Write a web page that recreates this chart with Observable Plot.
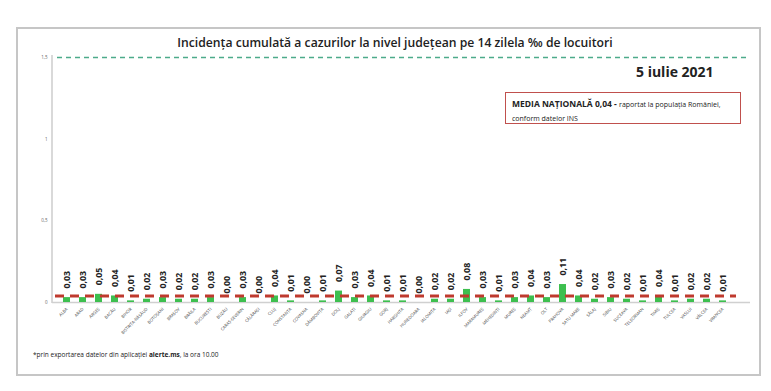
<!DOCTYPE html>
<html>
<head>
<meta charset="utf-8">
<script src="https://cdn.jsdelivr.net/npm/d3@7"></script>
<script src="https://cdn.jsdelivr.net/npm/@observablehq/plot@0.6"></script>
<style>
  html, body { margin: 0; padding: 0; background: #fff; }
  #wrap { position: relative; width: 771px; height: 391px; overflow: hidden; font-family: "Open Sans", sans-serif; color: #222; }
  #frame { position: absolute; left: 16px; top: 27px; width: 741px; height: 345px; border: 2px solid #c6c6c6; }
  #yline { position: absolute; left: 51px; top: 55px; width: 2px; height: 248px; background: #d9d9d9; }
  #title { position: absolute; left: 0; width: 790px; top: 34px; text-align: center; font-size: 12.2px; font-weight: 600; white-space: nowrap; }
  #date { position: absolute; left: 636px; top: 62px; font-size: 14px; font-weight: 700; white-space: nowrap; }
  #box { position: absolute; left: 505px; top: 92px; width: 236px; height: 32px; border: 1.5px solid #c0504d; box-sizing: border-box; padding: 3px 0 0 6px; line-height: 11px; white-space: nowrap; }
  #box b { font-size: 8.5px; font-weight: 700; }
  #box span { font-size: 7px; }
  #note { position: absolute; left: 33px; top: 350px; font-size: 6.5px; white-space: nowrap; }
  #chart { position: absolute; left: 0; top: 0; }
</style>
</head>
<body>
<div id="wrap">
  <div id="frame"></div>
  <div id="yline"></div>
  <div id="title">Incidența cumulată a cazurilor la nivel județean pe 14 zilela ‰ de locuitori</div>
  <div id="date">5 iulie 2021</div>
  <div id="box"><b>MEDIA NAȚIONALĂ 0,04 - </b><span>raportat la populația României,</span><br><span>conform datelor INS</span></div>
  <div id="note">*prin exportarea datelor din aplicației <b>alerte.ms</b>, la ora 10.00</div>
  <div id="chart"></div>
</div>
<script>
const counties = ["ALBA","ARAD","ARGEȘ","BACĂU","BIHOR","BISTRIȚA-NĂSĂUD","BOTOȘANI","BRAȘOV","BRĂILA","BUCUREȘTI","BUZĂU","CARAȘ-SEVERIN","CĂLĂRAȘI","CLUJ","CONSTANȚA","COVASNA","DÂMBOVIȚA","DOLJ","GALAȚI","GIURGIU","GORJ","HARGHITA","HUNEDOARA","IALOMIȚA","IAȘI","ILFOV","MARAMUREȘ","MEHEDINȚI","MUREȘ","NEAMȚ","OLT","PRAHOVA","SATU MARE","SĂLAJ","SIBIU","SUCEAVA","TELEORMAN","TIMIȘ","TULCEA","VASLUI","VÂLCEA","VRANCEA"];
const incidence = [0.03,0.03,0.05,0.04,0.01,0.02,0.03,0.02,0.02,0.03,0.00,0.03,0.00,0.04,0.01,0.00,0.01,0.07,0.03,0.04,0.01,0.01,0.00,0.02,0.02,0.08,0.03,0.01,0.03,0.04,0.03,0.11,0.04,0.02,0.03,0.02,0.01,0.04,0.01,0.02,0.02,0.01];
const yTicks = [0, 0.5, 1, 1.5];
const nationalAverage = 0.04;
const threshold = 1.5;

const data = counties.map((c, i) => ({county: c, value: incidence[i]}));
const comma = v => d3.format(".2f")(v).replace(".", ",");
const tickFmt = v => String(v).replace(".", ",");

const chart = Plot.plot({
  width: 771,
  height: 391,
  marginLeft: 52,
  marginRight: 21,
  marginTop: 57,
  marginBottom: 89,
  style: {background: "transparent", fontFamily: "Open Sans, sans-serif"},
  x: {domain: counties, paddingInner: 0.58, paddingOuter: 0.325, align: 0.3, label: null},
  y: {domain: [0, 1.5], label: null},
  marks: [
    Plot.ruleY([0], {stroke: "#d0d0d0", strokeWidth: 1.5}),
    Plot.barY(data, {x: "county", y: "value", fill: "#3dbf4f"}),
    Plot.ruleY([nationalAverage], {stroke: "#bf3a2e", strokeWidth: 3, strokeDasharray: "9,6", insetLeft: 3, insetRight: 14}),
    Plot.ruleY([threshold], {stroke: "#4dab8a", strokeWidth: 1.5, strokeDasharray: "5,4", insetLeft: 5}),
    Plot.text(data, {x: "county", y: "value", text: d => comma(d.value), rotate: -90, textAnchor: "start", dy: -9, fontSize: 8.8, fontWeight: 700, fill: "#222"}),
    Plot.axisY({ticks: yTicks, tickSize: 0, tickPadding: 5, tickFormat: tickFmt, fontSize: 4.5, fill: "#666"}),
    Plot.axisX({tickSize: 0, tickPadding: 6, tickRotate: -45, fontSize: 4.2, fill: "#444"})
  ]
});
document.getElementById("chart").appendChild(chart);
</script>
</body>
</html>
